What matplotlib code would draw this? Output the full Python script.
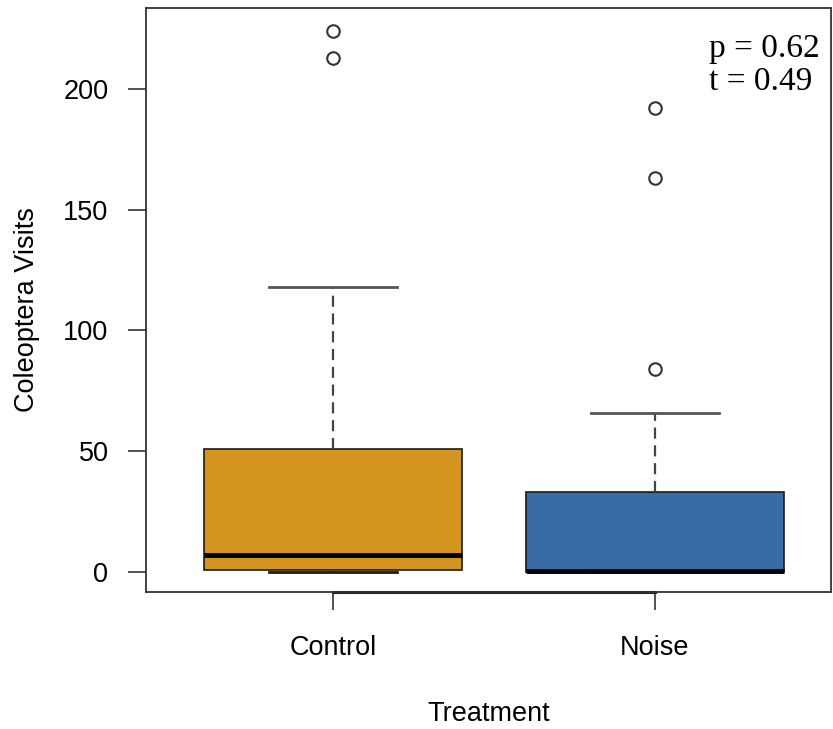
import matplotlib
matplotlib.use('Agg')
import matplotlib.pyplot as plt

# box statistics
groups = ['Control', 'Noise']
q1 = [1, 0]
medians = [7, 0.5]
q3 = [51, 33]
whisker_lo = [0, 0]
whisker_hi = [118, 66]
fliers = [[213, 224], [84, 163, 192]]
box_colors = ['#D3951F', '#386CA7']

p_text = 'p = 0.62'
t_text = 't = 0.49'

plt.rcParams['font.family'] = ['Liberation Sans', 'DejaVu Sans']

fig = plt.figure(figsize=(8.33, 7.29), dpi=100)
ax = fig.add_axes([146 / 833, 1 - 592 / 729, 685 / 833, 584 / 729])

stats = []
for i, g in enumerate(groups):
    stats.append({'label': g, 'q1': q1[i], 'med': medians[i], 'q3': q3[i],
                  'whislo': whisker_lo[i], 'whishi': whisker_hi[i],
                  'fliers': fliers[i]})

bp = ax.bxp(stats, positions=[1, 2], widths=0.8, patch_artist=True,
            capwidths=0.4,
            boxprops=dict(edgecolor='#1a1a1a', linewidth=1.2),
            medianprops=dict(color='black', linewidth=3.5),
            whiskerprops=dict(color='#444444', linestyle=(0, (5, 3)), linewidth=1.6),
            capprops=dict(color='#555555', linewidth=2),
            flierprops=dict(marker='o', markersize=9, markerfacecolor='white',
                            markeredgecolor='#333333', markeredgewidth=1.5))
for patch, c in zip(bp['boxes'], box_colors):
    patch.set_facecolor(c)
# lower cap of Control sits on the box edge, drawn dark
bp['caps'][0].set_color('#2a1a00')

ax.set_xlim(0.419, 2.547)
ax.set_ylim(-8.3, 233.5)
ax.set_yticks([0, 50, 100, 150, 200])
ax.set_xticks([1, 2])
ax.set_xticklabels(groups)
ax.tick_params(axis='both', labelsize=19.5, length=13, width=1.2, color='#333333')
ax.tick_params(axis='y', pad=14)
ax.tick_params(axis='x', pad=18)
for s in ax.spines.values():
    s.set_color('#333333')
    s.set_linewidth(1.3)

# R style axis line between the outer ticks
ax.plot([1, 2], [0, 0], color='#222222', linewidth=2.2,
        transform=ax.get_xaxis_transform(), clip_on=False)

ax.set_ylabel('Coleoptera Visits', fontsize=19.5)
ax.yaxis.set_label_coords(-0.155, 0.483)
ax.set_xlabel('Treatment', fontsize=19.5, labelpad=29)

ax.text(0.822, 0.916, p_text, transform=ax.transAxes, fontsize=24,
        family='Liberation Serif', ha='left', va='baseline')
ax.text(0.822, 0.860, t_text, transform=ax.transAxes, fontsize=24,
        family='Liberation Serif', ha='left', va='baseline')

fig.savefig('out.png', dpi=100)
